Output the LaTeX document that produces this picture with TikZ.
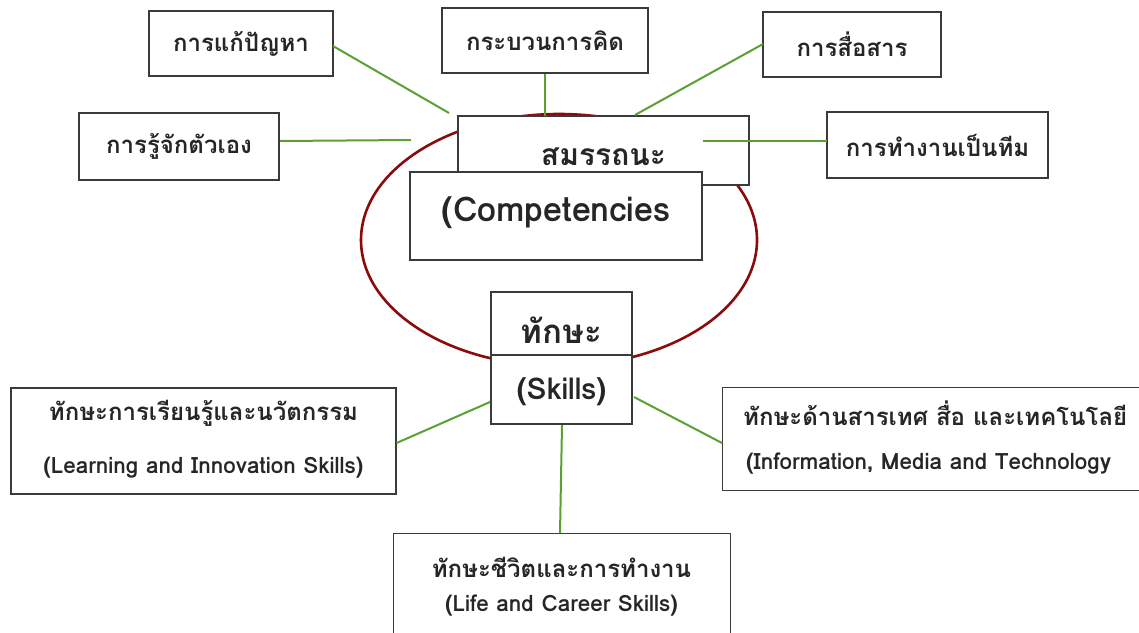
\documentclass[tikz,border=0pt]{standalone}
\usepackage{fontspec}
\setmainfont{Loma}[Script=Thai]
\definecolor{boxgray}{HTML}{3A3A3A}
\definecolor{txt}{HTML}{262626}
\definecolor{lgreen}{HTML}{5AA032}
\definecolor{ringred}{HTML}{8B0A0A}
\begin{document}
\begin{tikzpicture}[x=1pt,y=-1pt,
  box/.style={draw=boxgray, line width=1.1pt, fill=white, inner sep=0pt, text=txt, font=\bfseries\fontsize{24}{28}\selectfont},
  lbl/.style={inner sep=0pt, text=txt, font=\bfseries\fontsize{24}{28}\selectfont},
  biglbl/.style={inner sep=0pt, text=txt, font=\bfseries\fontsize{30}{36}\selectfont},
  sublbl/.style={inner sep=0pt, text=txt, font=\bfseries\fontsize{22.5}{26}\selectfont},
  link/.style={draw=lgreen, line width=2pt},
  ringstyle/.style={draw=ringred, line width=2.6pt}]
\useasboundingbox (0,0) rectangle (1139,632);
\clip (0,0) rectangle (1139,632);
% ring
\draw[ringstyle] (559,240) ellipse [x radius=198pt, y radius=126pt];
% top boxes
\node[box, minimum width=184pt, minimum height=65pt] (pb) at (241,43.5) {การแก้ปัญหา};
\node[box, minimum width=206pt, minimum height=65pt] (think) at (545,40.5) {กระบวนการคิด};
\node[box, minimum width=178pt, minimum height=65pt] (comm) at (852,44.5) {การสื่อสาร};
\node[box, minimum width=200pt, minimum height=67pt] (self) at (179,146.5) {การรู้จักตัวเอง};
\node[box, minimum width=221pt, minimum height=66pt] (team) at (937.5,145) {การทำงานเป็นทีม};
% centre
\node[box, minimum width=291pt, minimum height=69pt] (comp1) at (603.5,150.5) {};
\node[biglbl] (comp1t) at (603.5,157) {สมรรถนะ};
\node[box, minimum width=292pt, minimum height=88pt] (comp2) at (556,216) {};
\node[biglbl, font=\bfseries\fontsize{34}{40}\selectfont] (comp2t) at (556,213) {(Competencies};
\node[box, minimum width=141pt, minimum height=63pt] (sk1) at (561.5,323.5) {};
\node[biglbl, font=\bfseries\fontsize{33}{38}\selectfont] (sk1t) at (561.5,330) {ทักษะ};
\node[box, minimum width=141pt, minimum height=69pt] (sk2) at (561.5,389.5) {};
\node[lbl, font=\bfseries\fontsize{30}{34}\selectfont] (sk2t) at (561.5,392) {(Skills)};
% bottom boxes
\node[box, minimum width=385pt, minimum height=106pt] (learn) at (203.5,441) {};
\node[lbl] (learnt) at (203.5,413) {ทักษะการเรียนรู้และนวัตกรรม};
\node[sublbl] (learns) at (203.5,468) {(Learning and Innovation Skills)};
\node[box, minimum width=440pt, minimum height=103pt, anchor=north west] (info) at (722,387) {};
\node[lbl, anchor=west] (infot) at (743,413) {ทักษะด้านสารเทศ สื่อ และเทคโนโลยี};
\node[sublbl, anchor=west] (infos) at (746,464) {(Information, Media and Technology};
\node[box, minimum width=337pt, minimum height=130pt, anchor=north west] (life) at (393,533) {};
\node[lbl] (lifet) at (561.5,567) {ทักษะชีวิตและการทำงาน};
\node[sublbl] (lifes) at (561.5,606) {(Life and Career Skills)};
% free ends
\coordinate (e1) at (449,113);
\coordinate (e3) at (635,115);
\coordinate (e4) at (411,140);
\coordinate (e5) at (703,141);
\coordinate (s1) at (333,46);
\coordinate (s3) at (763,44);
\coordinate (s4) at (280,141);
\coordinate (s5) at (827,141);
% links
\draw[link] (s1) -- (e1);
\draw[link] (think.south) -- (545,116);
\draw[link] (s3) -- (e3);
\draw[link] (s4) -- (e4);
\draw[link] (e5) -- (s5);
\draw[link] (learn.east |- 0,443) -- (490,402);
\draw[link] (634,397) -- (info.west |- 0,443);
\draw[link] (562,425) -- (life.north -| 560,0);
\end{tikzpicture}
\end{document}
